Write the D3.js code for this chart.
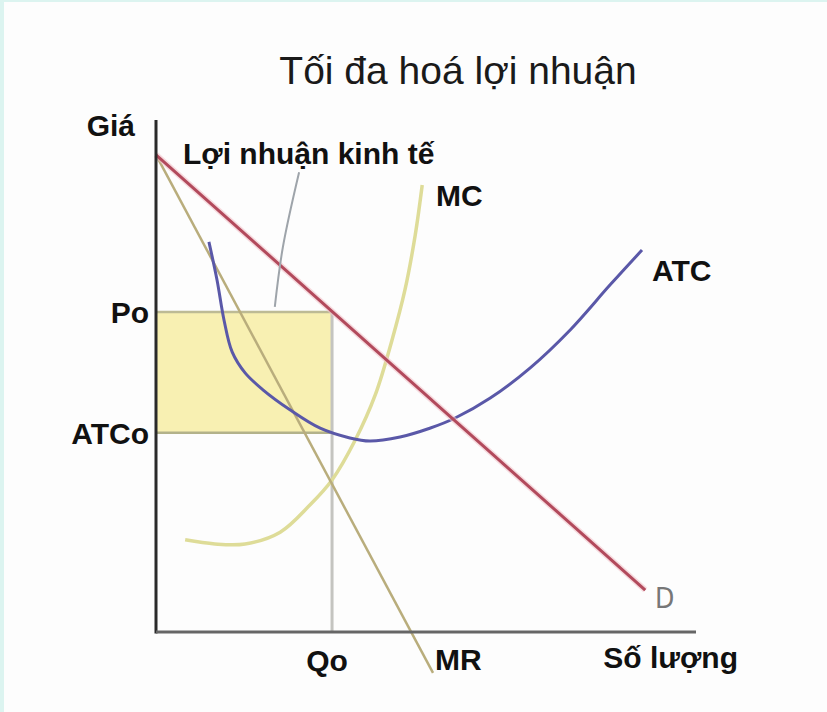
<!DOCTYPE html>
<html>
<head>
<meta charset="utf-8">
<script src="https://cdn.jsdelivr.net/npm/d3@7"></script>
<style>
  html, body { margin: 0; padding: 0; background: #fdfdfd; }
  svg { display: block; }
  text { font-family: "Liberation Sans", Arial, sans-serif; fill: #111; }
</style>
</head>
<body>
<svg id="chart" width="827" height="712"></svg>
<script>
// ---- data (quantity, price in chart units 0..100) ----
const title = "Tối đa hoá lợi nhuận";
const yAxisLabel = "Giá";
const xAxisLabel = "Số lượng";
const profitLabel = "Lợi nhuận kinh tế";

const demandQ = [0, 90.6];
const demandP = [93.2, 8.2];

const mrQ = [0, 51.3];
const mrP = [93.2, -8.0];

const mcQ = [5.4, 10.9, 16.5, 23.0, 28.5, 32.6, 36.9, 40.6, 43.7, 46.1, 48.0, 49.3];
const mcP = [18.0, 17.2, 17.2, 19.5, 24.8, 29.7, 37.5, 46.3, 57.0, 66.8, 77.5, 87.3];

const atcQ = [9.8, 11.3, 12.6, 14.1, 16.5, 19.8, 24.8, 30.4, 35.9, 39.6, 45.2, 50.7, 55.4, 61.9, 69.3, 76.7, 84.1, 90.0];
const atcP = [76.2, 68.75, 60.9, 54.7, 50.6, 47.3, 43.4, 39.8, 37.9, 37.3, 38.1, 39.8, 41.8, 45.7, 51.6, 59.0, 67.8, 74.6];

const yTickValues = [62.5, 38.9];
const yTickLabels = ["Po", "ATCo"];
const xTickValues = [32.6];
const xTickLabels = ["Qo"];

const pointerQ = [26.5, 23.5, 22.0];
const pointerP = [89.8, 75.2, 63.5];

// ---- drawing ----
const svg = d3.select("#chart");
const x = d3.scaleLinear().domain([0, 100]).range([156, 696]);
const y = d3.scaleLinear().domain([0, 100]).range([632, 120]);

// frame border
svg.append("rect").attr("x", 0).attr("y", 0).attr("width", 827).attr("height", 712).attr("fill", "#fdfdfd");
svg.append("rect").attr("x", 0).attr("y", 0).attr("width", 4).attr("height", 712).attr("fill", "#dcf4f0");
svg.append("rect").attr("x", 0).attr("y", 0).attr("width", 827).attr("height", 2).attr("fill", "#dcf4f0");

const Po = yTickValues[0], ATCo = yTickValues[1], Qo = xTickValues[0];

// profit rectangle
svg.append("rect")
  .attr("x", x(0)).attr("y", y(Po))
  .attr("width", x(Qo) - x(0)).attr("height", y(ATCo) - y(Po))
  .attr("fill", "#f8f0b2");

// guide lines
svg.append("line").attr("x1", x(0)).attr("x2", x(Qo)).attr("y1", y(Po)).attr("y2", y(Po))
  .attr("stroke", "#bdbb95").attr("stroke-width", 2.5);
svg.append("line").attr("x1", x(0)).attr("x2", x(Qo)).attr("y1", y(ATCo)).attr("y2", y(ATCo))
  .attr("stroke", "#b3b28a").attr("stroke-width", 2.5);
svg.append("line").attr("x1", x(Qo)).attr("x2", x(Qo)).attr("y1", y(Po)).attr("y2", y(0))
  .attr("stroke", "#c4c4c0").attr("stroke-width", 3);

const lineGen = d3.line().x(d => x(d[0])).y(d => y(d[1]));
const smooth = d3.line().x(d => x(d[0])).y(d => y(d[1])).curve(d3.curveCatmullRom.alpha(0.5));

// MC
svg.append("path").datum(d3.zip(mcQ, mcP)).attr("d", smooth)
  .attr("fill", "none").attr("stroke", "#dedc98").attr("stroke-width", 3.5);

// MR
svg.append("path").datum(d3.zip(mrQ, mrP)).attr("d", lineGen)
  .attr("fill", "none").attr("stroke", "#b9ad7c").attr("stroke-width", 2.5);

// ATC
svg.append("path").datum(d3.zip(atcQ, atcP)).attr("d", smooth)
  .attr("fill", "none").attr("stroke", "#5a58a8").attr("stroke-width", 3);

// Demand
svg.append("path").datum(d3.zip(demandQ, demandP)).attr("d", lineGen)
  .attr("fill", "none").attr("stroke", "#f2c4cc").attr("stroke-width", 6).attr("opacity", 0.6);
svg.append("path").datum(d3.zip(demandQ, demandP)).attr("d", lineGen)
  .attr("fill", "none").attr("stroke", "#b24a5c").attr("stroke-width", 3);

// pointer
svg.append("path").datum(d3.zip(pointerQ, pointerP)).attr("d", smooth)
  .attr("fill", "none").attr("stroke", "#9ea4aa").attr("stroke-width", 2);

// axes
svg.append("line").attr("x1", x(0)).attr("x2", x(0)).attr("y1", 120).attr("y2", y(0) + 1.5)
  .attr("stroke", "#2a2a2a").attr("stroke-width", 3);
svg.append("line").attr("x1", x(0)).attr("x2", x(100)).attr("y1", y(0)).attr("y2", y(0))
  .attr("stroke", "#666").attr("stroke-width", 3);

// texts
svg.append("text").attr("x", 458).attr("y", 84).attr("text-anchor", "middle")
  .style("font-size", "39px").style("fill", "#1a1a1a").text(title);

const bold = (sel) => sel.style("font-weight", "bold").style("font-size", "30px");

bold(svg.append("text").attr("x", 135).attr("y", 136).attr("text-anchor", "end").text(yAxisLabel));
bold(svg.append("text").attr("x", 183).attr("y", 164).style("font-size", "31px").text(profitLabel));
bold(svg.append("text").attr("x", 436).attr("y", 206).text("MC"));
bold(svg.append("text").attr("x", 652).attr("y", 281).text("ATC"));
bold(svg.append("text").attr("x", 435).attr("y", 670).text("MR"));
bold(svg.append("text").attr("x", 738).attr("y", 668).attr("text-anchor", "end").text(xAxisLabel));
svg.append("text").attr("x", 655).attr("y", 608).style("font-size", "28px").style("fill", "#777")
  .style("font-family", "'DejaVu Sans Condensed', sans-serif").text("D");

yTickValues.forEach((v, i) => {
  bold(svg.append("text").attr("x", 149).attr("y", y(v) + 11).attr("text-anchor", "end").text(yTickLabels[i]));
});
xTickValues.forEach((v, i) => {
  bold(svg.append("text").attr("x", x(v) - 5).attr("y", 671).attr("text-anchor", "middle").text(xTickLabels[i]));
});
</script>
</body>
</html>
